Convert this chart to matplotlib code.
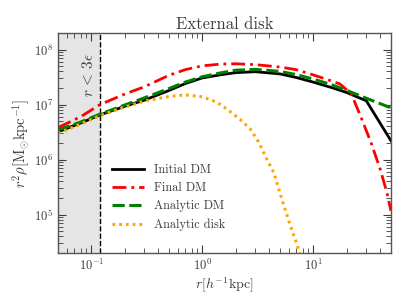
import matplotlib
matplotlib.use('Agg')
import matplotlib.pyplot as plt
import numpy as np

# 字体: Computer Modern 风格
plt.rcParams['font.family'] = 'serif'
plt.rcParams['font.serif'] = ['cmr10', 'DejaVu Serif']
plt.rcParams['mathtext.fontset'] = 'cm'
plt.rcParams['axes.formatter.use_mathtext'] = True
plt.rcParams['axes.unicode_minus'] = False

# 数据
r_init = [0.05, 0.08, 0.12, 0.2, 0.3, 0.5, 0.7, 1.0, 1.5, 2.0, 3.0, 5.0, 7.0, 10.0, 15.0, 20.0, 30.0, 50.0]
init_dm = [3.2e6, 4.6e6, 6.5e6, 9.3e6, 1.2e7, 1.8e7, 2.4e7, 3.05e7, 3.5e7, 3.8e7, 3.95e7,
           3.6e7, 3.1e7, 2.55e7, 2.0e7, 1.65e7, 1.17e7, 2.2e6]

r_final = [0.05, 0.08, 0.12, 0.2, 0.3, 0.5, 0.7, 1.0, 1.5, 2.0, 3.0, 5.0, 7.0, 10.0, 14.0,
           17.4, 22.0, 26.5, 33.0, 40.0, 46.0, 50.0]
final_dm = [3.8e6, 6.0e6, 1.0e7, 1.55e7, 2.1e7, 3.4e7, 4.3e7, 5.05e7, 5.45e7, 5.5e7, 5.3e7,
            4.8e7, 4.3e7, 3.45e7, 2.75e7, 2.36e7, 1.55e7, 6.3e6, 2.06e6, 6.7e5, 2.5e5, 1.17e5]

r_adm = [0.05, 0.08, 0.12, 0.2, 0.3, 0.5, 0.7, 1.0, 1.5, 2.0, 3.0, 5.0, 7.0, 10.0, 15.0, 20.0, 30.0, 50.0]
analytic_dm = [3.45e6, 4.8e6, 6.7e6, 9.8e6, 1.32e7, 1.95e7, 2.55e7, 3.2e7, 3.8e7, 4.2e7, 4.35e7,
               4.0e7, 3.5e7, 2.9e7, 2.25e7, 1.8e7, 1.3e7, 8.7e6]

r_disk = [0.05, 0.08, 0.12, 0.2, 0.3, 0.5, 0.7, 1.0, 1.35, 1.7, 2.2, 2.7, 3.2, 3.8, 4.4, 5.2, 6.2, 7.2, 7.6]
analytic_disk = [3.0e6, 4.4e6, 6.3e6, 9.0e6, 1.15e7, 1.4e7, 1.5e7, 1.38e7, 1.1e7, 8.0e6, 5.3e6,
                 3.6e6, 2.1e6, 1.02e6, 5.8e5, 1.9e5, 6.3e4, 2.7e4, 1.8e4]

eps3 = 0.12
gray = '#3c3c3c'

fig = plt.figure(figsize=(4.07, 3.05), dpi=100)
ax = fig.add_axes([0.1425, 0.1705, 0.818, 0.7215])

ax.axvspan(0.05, eps3, color='#e5e5e5', zorder=0)
ax.axvline(eps3, color='k', ls='--', lw=1.0, zorder=1)

ax.plot(r_init, init_dm, color='k', lw=2, label='Initial DM')
ax.plot(r_final, final_dm, color='red', lw=2, ls=(0, (5, 1.8, 1, 1.8)), label='Final DM')
ax.plot(r_adm, analytic_dm, color='green', lw=2.2, ls=(0, (4, 1.5)), label='Analytic DM')
ax.plot(r_disk, analytic_disk, color='orange', lw=2.2, ls=(0, (0.9, 1.3)), label='Analytic disk')

ax.set_xscale('log')
ax.set_yscale('log')
ax.set_xlim(0.05, 50)
ax.set_ylim(2e4, 2e8)

ax.text(0.095, 3.5e7, r'$r\,<\,3\epsilon$', rotation=90, ha='center', va='center',
        fontsize=11, color=gray)

ax.set_title('External disk', fontsize=12, color=gray, pad=3)
ax.set_xlabel(r'$r[h^{-1}\mathrm{kpc}]$', fontsize=10, color=gray, labelpad=2)
ax.set_ylabel(r'$r^2\rho[\mathrm{M}_{\odot}\mathrm{kpc}^{-1}]$', fontsize=10.5, color=gray, labelpad=1)

ax.tick_params(which='both', direction='in', top=True, right=True, colors=gray, labelsize=9)
ax.tick_params(which='major', length=6, width=0.8)
ax.tick_params(which='minor', length=3.5, width=0.6)
for sp in ax.spines.values():
    sp.set_color('#555555')
    sp.set_linewidth(1.0)

leg = ax.legend(loc='upper left', bbox_to_anchor=(0.13, 0.455), frameon=False,
                fontsize=8.8, handlelength=2.6, labelspacing=0.5)
for t in leg.get_texts():
    t.set_color(gray)

fig.savefig('out.png', dpi=100)
